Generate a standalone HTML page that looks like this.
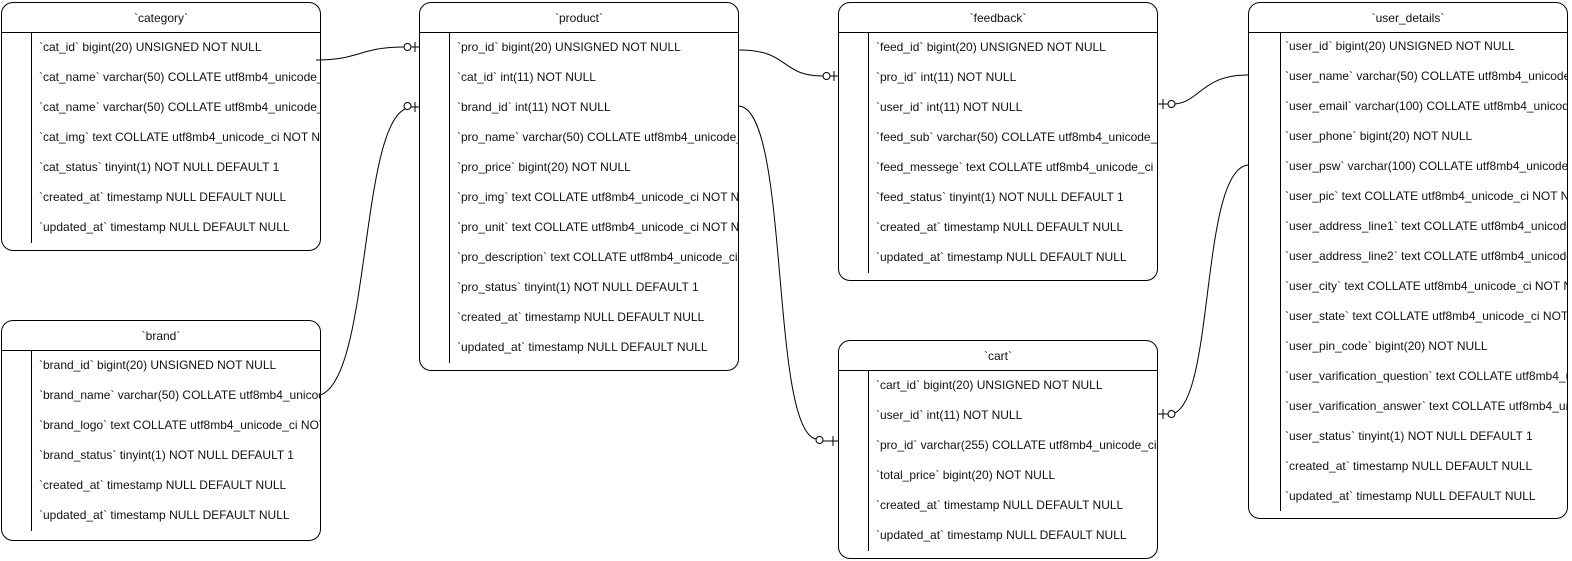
<!DOCTYPE html>
<html><head><meta charset="utf-8">
<style>
*{margin:0;padding:0;box-sizing:border-box}
body{width:1572px;height:561px;background:#fff;position:relative;overflow:hidden;font-family:"Liberation Sans",Arial,sans-serif;font-size:12px;color:#111}
.t{position:absolute;border:1px solid #000;border-radius:12px;background:#fff;overflow:hidden}
.h{height:30px;border-bottom:1px solid #000;text-align:center;line-height:30px;font-size:12px}
.v{position:absolute;left:29px;top:30px;width:1px;background:#000}
.r{position:absolute;left:37px;white-space:nowrap;line-height:14px}
svg{position:absolute;left:0;top:0}
</style></head><body>

<div class="t" style="left:1px;top:2px;width:320px;height:249px">
<div class="h">`category`</div><div class="v" style="height:210px"></div>
<div class="r" style="top:37px">`cat_id` bigint(20) UNSIGNED NOT NULL</div>
<div class="r" style="top:67px">`cat_name` varchar(50) COLLATE utf8mb4_unicode_ci NOT NULL</div>
<div class="r" style="top:97px">`cat_name` varchar(50) COLLATE utf8mb4_unicode_ci NOT NULL</div>
<div class="r" style="top:127px">`cat_img` text COLLATE utf8mb4_unicode_ci NOT NULL</div>
<div class="r" style="top:157px">`cat_status` tinyint(1) NOT NULL DEFAULT 1</div>
<div class="r" style="top:187px">`created_at` timestamp NULL DEFAULT NULL</div>
<div class="r" style="top:217px">`updated_at` timestamp NULL DEFAULT NULL</div>
</div>

<div class="t" style="left:1px;top:320px;width:320px;height:221px">
<div class="h">`brand`</div><div class="v" style="height:180px"></div>
<div class="r" style="top:37px">`brand_id` bigint(20) UNSIGNED NOT NULL</div>
<div class="r" style="top:67px">`brand_name` varchar(50) COLLATE utf8mb4_unicode_ci NOT NULL</div>
<div class="r" style="top:97px">`brand_logo` text COLLATE utf8mb4_unicode_ci NOT NULL</div>
<div class="r" style="top:127px">`brand_status` tinyint(1) NOT NULL DEFAULT 1</div>
<div class="r" style="top:157px">`created_at` timestamp NULL DEFAULT NULL</div>
<div class="r" style="top:187px">`updated_at` timestamp NULL DEFAULT NULL</div>
</div>

<div class="t" style="left:419px;top:2px;width:320px;height:369px">
<div class="h">`product`</div><div class="v" style="height:330px"></div>
<div class="r" style="top:37px">`pro_id` bigint(20) UNSIGNED NOT NULL</div>
<div class="r" style="top:67px">`cat_id` int(11) NOT NULL</div>
<div class="r" style="top:97px">`brand_id` int(11) NOT NULL</div>
<div class="r" style="top:127px">`pro_name` varchar(50) COLLATE utf8mb4_unicode_ci NOT NULL</div>
<div class="r" style="top:157px">`pro_price` bigint(20) NOT NULL</div>
<div class="r" style="top:187px">`pro_img` text COLLATE utf8mb4_unicode_ci NOT NULL</div>
<div class="r" style="top:217px">`pro_unit` text COLLATE utf8mb4_unicode_ci NOT NULL</div>
<div class="r" style="top:247px">`pro_description` text COLLATE utf8mb4_unicode_ci NOT NULL</div>
<div class="r" style="top:277px">`pro_status` tinyint(1) NOT NULL DEFAULT 1</div>
<div class="r" style="top:307px">`created_at` timestamp NULL DEFAULT NULL</div>
<div class="r" style="top:337px">`updated_at` timestamp NULL DEFAULT NULL</div>
</div>

<div class="t" style="left:838px;top:2px;width:320px;height:279px">
<div class="h">`feedback`</div><div class="v" style="height:240px"></div>
<div class="r" style="top:37px">`feed_id` bigint(20) UNSIGNED NOT NULL</div>
<div class="r" style="top:67px">`pro_id` int(11) NOT NULL</div>
<div class="r" style="top:97px">`user_id` int(11) NOT NULL</div>
<div class="r" style="top:127px">`feed_sub` varchar(50) COLLATE utf8mb4_unicode_ci NOT NULL</div>
<div class="r" style="top:157px">`feed_messege` text COLLATE utf8mb4_unicode_ci NOT NULL</div>
<div class="r" style="top:187px">`feed_status` tinyint(1) NOT NULL DEFAULT 1</div>
<div class="r" style="top:217px">`created_at` timestamp NULL DEFAULT NULL</div>
<div class="r" style="top:247px">`updated_at` timestamp NULL DEFAULT NULL</div>
</div>

<div class="t" style="left:838px;top:340px;width:320px;height:219px">
<div class="h">`cart`</div><div class="v" style="height:180px"></div>
<div class="r" style="top:37px">`cart_id` bigint(20) UNSIGNED NOT NULL</div>
<div class="r" style="top:67px">`user_id` int(11) NOT NULL</div>
<div class="r" style="top:97px">`pro_id` varchar(255) COLLATE utf8mb4_unicode_ci NOT NULL</div>
<div class="r" style="top:127px">`total_price` bigint(20) NOT NULL</div>
<div class="r" style="top:157px">`created_at` timestamp NULL DEFAULT NULL</div>
<div class="r" style="top:187px">`updated_at` timestamp NULL DEFAULT NULL</div>
</div>

<div class="t" style="left:1248px;top:2px;width:320px;height:517px">
<div class="h">`user_details`</div><div class="v" style="height:478px;left:31px"></div>
<div class="r" style="top:36px;left:36px">`user_id` bigint(20) UNSIGNED NOT NULL</div>
<div class="r" style="top:66px;left:36px">`user_name` varchar(50) COLLATE utf8mb4_unicode_ci NOT NULL</div>
<div class="r" style="top:96px;left:36px">`user_email` varchar(100) COLLATE utf8mb4_unicode_ci NOT NULL</div>
<div class="r" style="top:126px;left:36px">`user_phone` bigint(20) NOT NULL</div>
<div class="r" style="top:156px;left:36px">`user_psw` varchar(100) COLLATE utf8mb4_unicode_ci NOT NULL</div>
<div class="r" style="top:186px;left:36px">`user_pic` text COLLATE utf8mb4_unicode_ci NOT NULL</div>
<div class="r" style="top:216px;left:36px">`user_address_line1` text COLLATE utf8mb4_unicode_ci NOT NULL</div>
<div class="r" style="top:246px;left:36px">`user_address_line2` text COLLATE utf8mb4_unicode_ci NOT NULL</div>
<div class="r" style="top:276px;left:36px">`user_city` text COLLATE utf8mb4_unicode_ci NOT NULL</div>
<div class="r" style="top:306px;left:36px">`user_state` text COLLATE utf8mb4_unicode_ci NOT NULL</div>
<div class="r" style="top:336px;left:36px">`user_pin_code` bigint(20) NOT NULL</div>
<div class="r" style="top:366px;left:36px">`user_varification_question` text COLLATE utf8mb4_unicode_ci NOT NULL</div>
<div class="r" style="top:396px;left:36px">`user_varification_answer` text COLLATE utf8mb4_unicode_ci NOT NULL</div>
<div class="r" style="top:426px;left:36px">`user_status` tinyint(1) NOT NULL DEFAULT 1</div>
<div class="r" style="top:456px;left:36px">`created_at` timestamp NULL DEFAULT NULL</div>
<div class="r" style="top:486px;left:36px">`updated_at` timestamp NULL DEFAULT NULL</div>
</div>

<svg width="1572" height="561" viewBox="0 0 1572 561" fill="none" stroke="#000" stroke-width="1">
<!-- category -> product -->
<path d="M316 60 C360 60 360 47 404 47 M411 47 L420 47 M415 42 V52"/>
<circle cx="407.5" cy="47" r="3.5" fill="#fff"/>
<!-- brand -> product -->
<path d="M320 395 C370 380 360 130 405 109 M411 107 L420 107 M415 102 V112"/>
<circle cx="407.5" cy="106" r="3.5" fill="#fff"/>
<!-- product -> feedback -->
<path d="M739 50 C790 50 780 76 823 76 M830 76 L839 76 M834 71 V81"/>
<circle cx="826.5" cy="76" r="3.5" fill="#fff"/>
<!-- product -> cart -->
<path d="M739 106 C790 110 770 430 816 439 M823 441 L839 441 M833 436 V446"/>
<circle cx="819.5" cy="440" r="3.5" fill="#fff"/>
<!-- user_details -> feedback -->
<path d="M1248 75 C1200 75 1200 104 1172 104 M1158 104 L1168 104 M1163 99 V109"/>
<circle cx="1171.5" cy="104" r="3.5" fill="#fff"/>
<!-- user_details -> cart -->
<path d="M1248 165 C1200 170 1215 405 1172 414 M1158 414 L1168 414 M1163 409 V419"/>
<circle cx="1171.5" cy="414" r="3.5" fill="#fff"/>
</svg>
</body></html>
